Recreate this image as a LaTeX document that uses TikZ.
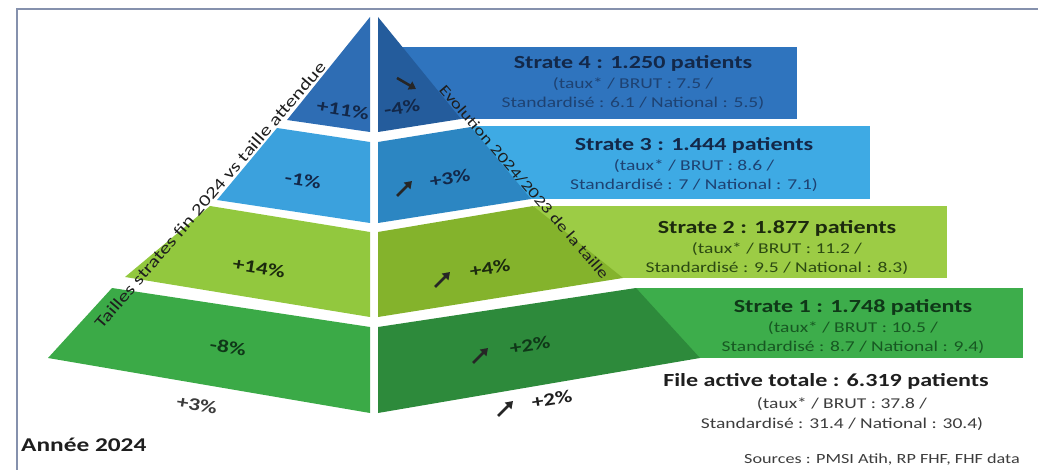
\documentclass[tikz,border=0pt]{standalone}
\usepackage{fontspec}
\setmainfont{Carlito}
\newfontfamily\wide{Carlito}[FakeStretch=1.3]
\usetikzlibrary{arrows.meta}

% face / box colours
\definecolor{frameC}{HTML}{8591AD}
\definecolor{bFourL}{HTML}{2E6DB4}
\definecolor{bFourR}{HTML}{245C9C}
\definecolor{bFourBox}{HTML}{2F74BE}
\definecolor{bThreeL}{HTML}{3BA1DD}
\definecolor{bThreeR}{HTML}{2C86C2}
\definecolor{bThreeBox}{HTML}{3EAAE4}
\definecolor{gTwoL}{HTML}{92C83E}
\definecolor{gTwoR}{HTML}{84B32C}
\definecolor{gTwoBox}{HTML}{9CCC45}
\definecolor{gOneL}{HTML}{3BAA47}
\definecolor{gOneR}{HTML}{2D8A3B}
\definecolor{gOneBox}{HTML}{3DAD4B}
% text colours
\definecolor{navyT}{HTML}{132849}
\definecolor{navyS}{HTML}{1E4272}
\definecolor{oliveT}{HTML}{1C2A0E}
\definecolor{oliveS}{HTML}{2C4A12}
\definecolor{greenT}{HTML}{0F3818}
\definecolor{greenS}{HTML}{175822}
\definecolor{grayT}{HTML}{1E1E1E}
\definecolor{grayS}{HTML}{3C3C3C}

\newcommand{\titlesize}{\wide\bfseries\fontsize{18.5}{19.5}\selectfont}

\tikzset{
  frameline/.style={draw=frameC, line width=1.6pt},
  info/.style={align=center, inner sep=0pt,
    font=\wide\fontsize{15}{19.5}\selectfont},
  pct/.style={inner sep=0pt, font=\wide\bfseries\fontsize{18}{20}\selectfont},
  axislabel/.style={inner sep=0pt, text=grayT},
  trend/.style={draw=black!85, line width=2.6pt, line cap=butt,
    -{Triangle[length=7pt,width=9pt]}},
  rise/.pic={\draw[trend] (-8,8) -- (7,-7);},
  fall/.pic={\draw[trend] (-10,-6) -- (9,5);}
}

\begin{document}
\begin{tikzpicture}[x=1pt, y=-1pt]
\useasboundingbox (0,0) rectangle (1038,470);

% frame
\draw[frameline] (17,470) -- (17,9) -- (1038,9);

% strata boxes (behind the right face)
\fill[bFourBox]  (402,47)  rectangle (797,119);
\fill[bThreeBox] (472,126) rectangle (870,199);
\fill[gTwoBox]   (534,206) rectangle (947,278);
\fill[gOneBox]   (636,288) rectangle (1023,358);

% left face of the pyramid
\fill[bFourL]  (370,17) -- (287,120) -- (370,132) -- cycle;
\fill[bThreeL] (370,142) -- (277,128) -- (217,200) -- (370,223) -- cycle;
\fill[gTwoL]   (370,232) -- (210,206) -- (125,277) -- (370,317) -- cycle;
\fill[gOneL]   (370,327) -- (112,288) -- (48,358) -- (370,413) -- cycle;

% right face of the pyramid
\fill[bFourR]  (378,17) -- (461,119) -- (378,132) -- cycle;
\fill[bThreeR] (378,142) -- (471,127) -- (531,199) -- (378,223) -- cycle;
\fill[gTwoR]   (378,232) -- (533,206) -- (623,278) -- (378,317) -- cycle;
\fill[gOneR]   (378,327) -- (636,288) -- (700,358) -- (378,413) -- cycle;

% axis captions along the edges
\node[axislabel, rotate=49.4, font=\wide\fontsize{16.5}{18}\selectfont]
  (sizeaxis) at (210,195) {Tailles strates fin 2024 vs taille attendue};
\node[axislabel, rotate=-49.2, font=\wide\fontsize{15}{17}\selectfont]
  (evolaxis) at (524,182) {Evolution 2024/2023 de la taille};

% size gaps (left face)
\node[pct, rotate=-9, text=navyT]  (gap4) at (343,110) {+11\%};
\node[pct, rotate=-9, text=navyT]  (gap3) at (303,180) {-1\%};
\node[pct, rotate=-9, text=oliveT] (gap2) at (259,268) {+14\%};
\node[pct, rotate=-9, text=greenT] (gap1) at (228,347) {-8\%};
\node[pct, rotate=-9, text=grayS]  (gapT) at (197,405) {+3\%};

% yearly evolution (right face)
\pic at (407,84) {fall};
\node[pct, rotate=9, text=navyT]  (evo4) at (402,108) {-4\%};
\pic at (405,188) {rise};
\node[pct, rotate=9, text=navyT]  (evo3) at (450,178) {+3\%};
\pic at (443,279) {rise};
\node[pct, rotate=9, text=oliveT] (evo2) at (490,268) {+4\%};
\pic at (481,355) {rise};
\node[pct, rotate=9, text=greenT] (evo1) at (530,345) {+2\%};
\pic at (506,408) {rise};
\node[pct, rotate=9, text=grayT]  (evoT) at (552,399) {+2\%};

% strata figures
\node[info, text=navyS] (s4) at (633,83)
  {{\color{navyT}\titlesize Strate 4 : 1.250 patients}\\(taux* / BRUT : 7.5 /\\Standardisé : 6.1 / National : 5.5)};
\node[info, text=navyS] (s3) at (694,165)
  {{\color{navyT}\titlesize Strate 3 : 1.444 patients}\\(taux* / BRUT : 8.6 /\\Standardisé : 7 / National : 7.1)};
\node[info, text=oliveS] (s2) at (777,248)
  {{\color{oliveT}\titlesize Strate 2 : 1.877 patients}\\(taux* / BRUT : 11.2 /\\Standardisé : 9.5 / National : 8.3)};
\node[info, text=greenS] (s1) at (853,327)
  {{\color{greenT}\titlesize Strate 1 : 1.748 patients}\\(taux* / BRUT : 10.5 /\\Standardisé : 8.7 / National : 9.4)};

% total active file
\node[info, text=grayT, font=\titlesize] (tottitle) at (826,381)
  {File active totale : 6.319 patients};
\node[info, text=grayS] (totsub) at (842,414)
  {(taux* / BRUT : 37.8 /\\Standardisé : 31.4 / National : 30.4)};

% footer
\node[inner sep=0pt, anchor=west, text=grayT, font=\wide\bfseries\fontsize{19.5}{21}\selectfont]
  (year) at (21,445) {Année 2024};
\node[inner sep=0pt, anchor=east, text=grayS, font=\wide\fontsize{14}{16}\selectfont]
  (sources) at (1020,460) {Sources : PMSI Atih, RP FHF, FHF data};
\end{tikzpicture}
\end{document}
